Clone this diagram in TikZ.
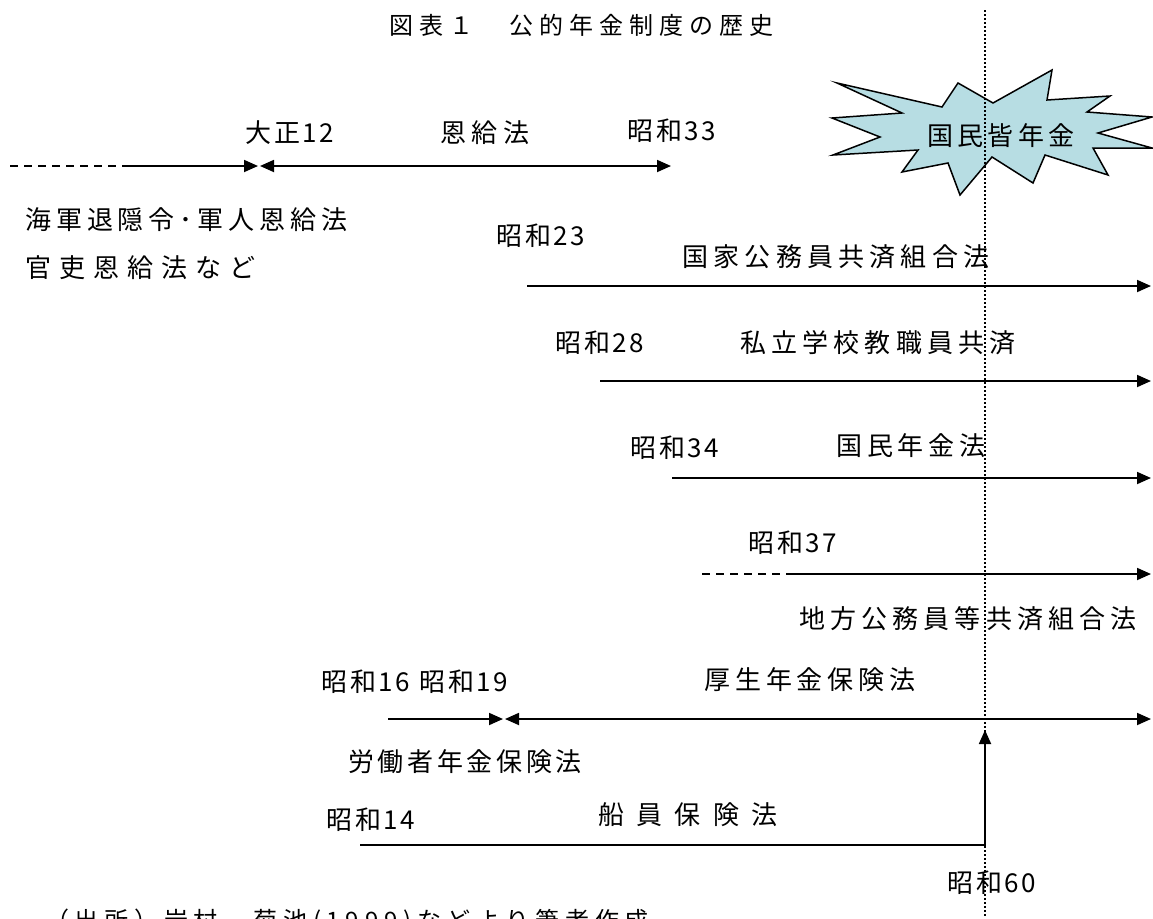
\documentclass[tikz,border=0pt]{standalone}
\usepackage{fontspec}
\setmainfont{Noto Sans CJK JP}
\usetikzlibrary{arrows.meta}
\definecolor{burst}{RGB}{183,221,227}
\tikzset{
  tri/.tip={Triangle[length=14pt,width=12pt]},
  arr/.style={line width=1.8pt,-tri},
  dblarr/.style={line width=1.8pt,tri-tri},
  dashln/.style={line width=1.6pt,dash pattern=on 8pt off 6pt},
  dotln/.style={line width=1.5pt,dash pattern=on 1.5pt off 2.5pt},
  ls/.style={inner sep=0pt,font=\fontsize{26}{30}\selectfont\addfontfeature{LetterSpace=#1}},
  ttl/.style={inner sep=0pt,font=\fontsize{24}{28}\selectfont\addfontfeature{LetterSpace=#1}},
}
\begin{document}
\begin{tikzpicture}[x=1pt,y=-1pt]
\useasboundingbox (0,0) rectangle (1153,918);
% title
\node[ttl=25] (title) at (581,25) {図表１　公的年金制度の歴史};
% starburst
\filldraw[fill=burst,line width=1.5pt,line join=miter]
 (837,83) -- (942,107) -- (958,83) -- (993,103) -- (1052,70) -- (1047,100)
 -- (1110,96) -- (1087,112) -- (1152,117) -- (1098,133) -- (1152,148)
 -- (1093,148) -- (1108,175) -- (1045,155) -- (1033,183) -- (992,157)
 -- (960,195) -- (948,163) -- (902,172) -- (918,150) -- (833,155)
 -- (880,137) -- (832,118) -- (902,113) -- cycle;
\node[ls=17] (kaiko) at (1001,136) {国民皆年金};
% dotted vertical line
\coordinate (v0) at (985,10);
\coordinate (v1) at (985,918);
\draw[dotln] (v0) -- (v1);
% row 1
\node[ls=10] (t12) at (290,133) {大正12};
\node[ls=23] (onkyu) at (485,133) {恩給法};
\node[ls=10] (s33) at (672,131) {昭和33};
\coordinate (a0) at (10,166);
\coordinate (a1) at (125,166);
\coordinate (a2) at (258,166);
\coordinate (a3) at (260,166);
\coordinate (a4) at (671,166);
\draw[dashln] (a0) -- (a1);
\draw[arr] (a1) -- (a2);
\draw[dblarr] (a3) -- (a4);
\node[ls=19,anchor=west] (kaigun) at (25,220) {海軍退隠令･軍人恩給法};
\node[ls=31,anchor=west] (kanri) at (25,268) {官吏恩給法など};
% row 2
\node[ls=10] (s23) at (541,236) {昭和23};
\node[ls=20] (kokka) at (836,257) {国家公務員共済組合法};
\coordinate (b0) at (527,286);
\coordinate (b1) at (1151,286);
\draw[arr] (b0) -- (b1);
% row 3
\node[ls=10] (s28) at (600,343) {昭和28};
\node[ls=20] (shiritsu) at (878,343) {私立学校教職員共済};
\coordinate (c0) at (600,381);
\coordinate (c1) at (1151,381);
\draw[arr] (c0) -- (c1);
% row 4
\node[ls=10] (s34) at (675,448) {昭和34};
\node[ls=19] (kokumin) at (911,446) {国民年金法};
\coordinate (d0) at (672,478);
\coordinate (d1) at (1151,478);
\draw[arr] (d0) -- (d1);
% row 5
\node[ls=10] (s37) at (793,543) {昭和37};
\coordinate (e0) at (702,574);
\coordinate (e1) at (787,574);
\coordinate (e2) at (1151,574);
\draw[dashln] (e0) -- (e1);
\draw[arr] (e1) -- (e2);
\node[ls=20] (chiho) at (968,619) {地方公務員等共済組合法};
% row 6
\node[ls=10] (s16) at (366,682) {昭和16};
\node[ls=10] (s19) at (464,682) {昭和19};
\node[ls=19] (kosei) at (810,680) {厚生年金保険法};
\coordinate (f0) at (388,719);
\coordinate (f1) at (503,719);
\coordinate (f2) at (505,719);
\coordinate (f3) at (1151,719);
\draw[arr] (f0) -- (f1);
\draw[dblarr] (f2) -- (f3);
\node[ls=14] (rodo) at (465,762) {労働者年金保険法};
% row 7
\node[ls=10] (s14) at (371,820) {昭和14};
\node[ls=48] (senin) at (688,815) {船員保険法};
\coordinate (g0) at (360,845);
\coordinate (g1) at (985,845);
\coordinate (g2) at (985,730);
\draw[arr,line join=miter] (g0) -- (g1) -- (g2);
\node[ls=10] (s60) at (992,883) {昭和60};
% source
\node[ttl=24,anchor=west] (src) at (45,922) {（出所）岩村、菊池(1999)などより筆者作成};
\end{tikzpicture}
\end{document}
